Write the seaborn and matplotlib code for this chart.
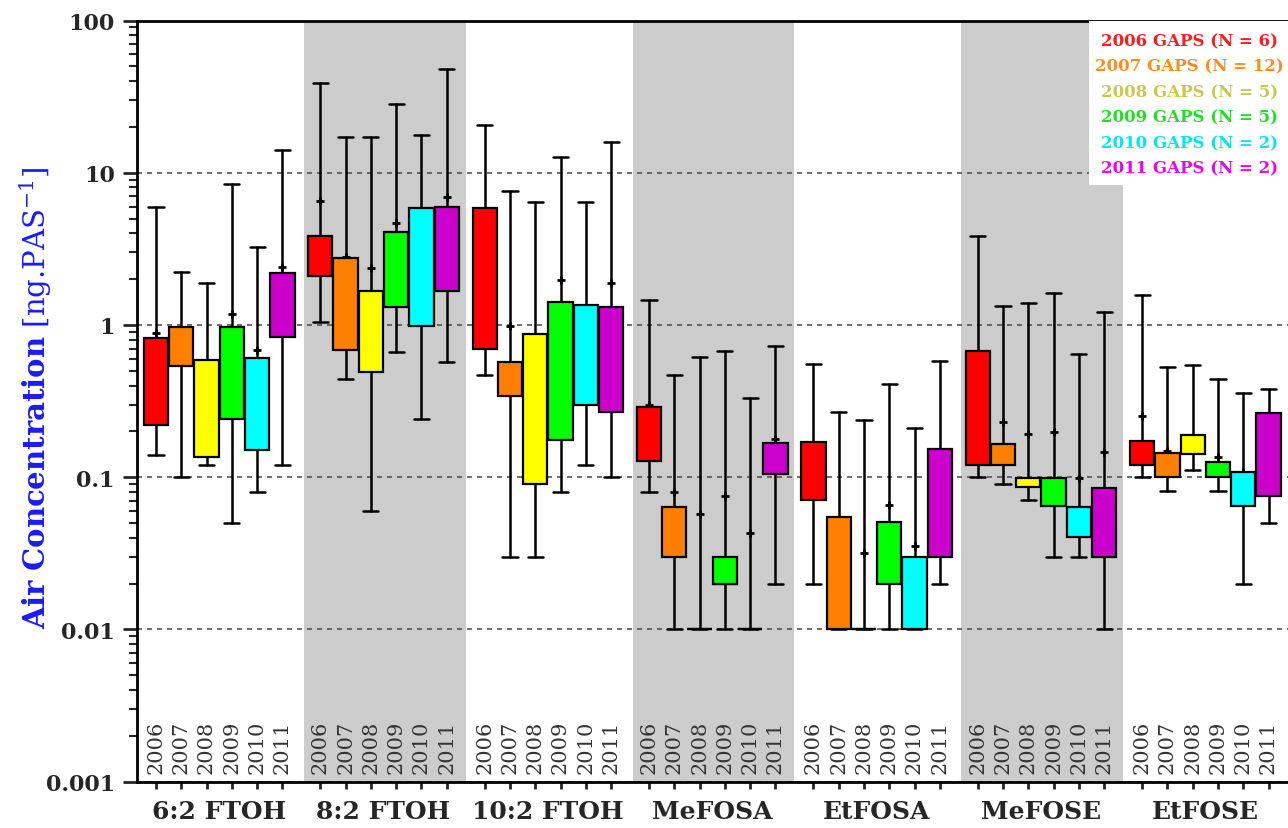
import matplotlib
matplotlib.use("Agg")
import matplotlib.pyplot as plt
import matplotlib.transforms as mtransforms
from matplotlib.patches import Rectangle
from matplotlib.ticker import NullFormatter
import seaborn as sns


# ── Data ──────────────────────────────────────────────────────────────────────

compounds = ["6:2 FTOH", "8:2 FTOH", "10:2 FTOH", "MeFOSA", "EtFOSA", "MeFOSE", "EtFOSE"]
years = ["2006", "2007", "2008", "2009", "2010", "2011"]
legend_labels = ["2006 GAPS (N = 6)", "2007 GAPS (N = 12)", "2008 GAPS (N = 5)",
                 "2009 GAPS (N = 5)", "2010 GAPS (N = 2)", "2011 GAPS (N = 2)"]

# one row per compound, one column per year
whisker_low = [
    [0.14, 0.10, 0.12, 0.05, 0.08, 0.12],
    [1.04, 0.44, 0.06, 0.66, 0.24, 0.575],
    [0.47, 0.03, 0.03, 0.08, 0.12, 0.10],
    [0.08, 0.01, 0.01, 0.01, 0.01, 0.02],
    [0.02, 0.01, 0.01, 0.01, 0.01, 0.02],
    [0.10, 0.09, 0.071, 0.03, 0.03, 0.01],
    [0.10, 0.081, 0.111, 0.081, 0.02, 0.05],
]
q1 = [
    [0.22, 0.54, 0.135, 0.24, 0.151, 0.83],
    [2.11, 0.685, 0.49, 1.32, 0.98, 1.66],
    [0.70, 0.34, 0.09, 0.176, 0.30, 0.27],
    [0.127, 0.03, 0.01, 0.02, 0.01, 0.105],
    [0.071, 0.01, 0.01, 0.02, 0.01, 0.03],
    [0.12, 0.12, 0.086, 0.065, 0.0407, 0.03],
    [0.12, 0.10, 0.142, 0.101, 0.065, 0.0757],
]
median = [
    [0.28, 0.79, 0.161, 0.58, 0.20, 1.48],
    [2.67, 1.50, 1.17, 2.27, 2.08, 2.58],
    [1.08, 0.44, 0.32, 0.78, 0.55, 0.53],
    [0.23, 0.05, 0.01, 0.02, 0.01, 0.146],
    [0.141, 0.0407, 0.01, 0.03, 0.02, 0.05],
    [0.18, 0.14, 0.091, 0.081, 0.05, 0.059],
    [0.151, 0.12, 0.155, 0.111, 0.089, 0.199],
]
q3 = [
    [0.82, 0.97, 0.59, 0.97, 0.61, 2.19],
    [3.82, 2.75, 1.68, 4.1, 5.87, 5.93],
    [5.85, 0.57, 0.87, 1.41, 1.36, 1.31],
    [0.288, 0.064, 0.01, 0.03, 0.01, 0.168],
    [0.17, 0.0546, 0.01, 0.0505, 0.03, 0.153],
    [0.67, 0.165, 0.0986, 0.099, 0.064, 0.0846],
    [0.174, 0.144, 0.19, 0.125, 0.108, 0.264],
]
whisker_high = [
    [5.93, 2.24, 1.9, 8.4, 3.27, 14.1],
    [38.7, 17.1, 17.2, 28.3, 17.8, 48.0],
    [20.6, 7.6, 6.45, 12.6, 6.4, 15.8],
    [1.46, 0.47, 0.62, 0.67, 0.33, 0.73],
    [0.555, 0.27, 0.239, 0.41, 0.21, 0.58],
    [3.82, 1.33, 1.39, 1.61, 0.64, 1.21],
    [1.57, 0.53, 0.55, 0.44, 0.357, 0.38],
]
mean = [
    [0.88, 0.88, 0.45, 1.18, 0.68, 2.39],
    [6.49, 2.78, 2.37, 4.66, 4.27, 6.9],
    [3.9, 0.98, 0.84, 1.98, 1.13, 1.88],
    [0.30, 0.080, 0.057, 0.0757, 0.043, 0.178],
    [0.153, 0.050, 0.0316, 0.066, 0.0355, 0.13],
    [0.61, 0.23, 0.192, 0.197, 0.0994, 0.146],
    [0.254, 0.148, 0.18, 0.135, 0.108, 0.186],
]

y_ticks = [0.001, 0.01, 0.1, 1, 10, 100]
y_tick_labels = ["0.001", "0.01", "0.1", "1", "10", "100"]

box_colors = ["#ff0000", "#ff8000", "#ffff00", "#00ff00", "#00ffff", "#cc00cc"]
legend_colors = ["#ff1a1a", "#ff8c1a", "#c8c850", "#1ee01e", "#00e6f0", "#f000f0"]


# ── Style ─────────────────────────────────────────────────────────────────────

sns.set_theme(style="ticks")
plt.rcParams["font.family"] = ["DejaVu Serif"]
plt.rcParams["mathtext.fontset"] = "dejavuserif"

GROUP_STEP = 6.5   # boxes per group + gap

fig = plt.figure(figsize=(12.88, 8.29), dpi=100)
ax = fig.add_axes([137 / 1288, 46.3 / 829, 1150.5 / 1288, 761.2 / 829])
ax.set_facecolor("white")

stats, positions = [], []
for g, comp in enumerate(compounds):
    for j, yr in enumerate(years):
        stats.append(dict(whislo=whisker_low[g][j], q1=q1[g][j], med=median[g][j],
                          q3=q3[g][j], whishi=whisker_high[g][j], mean=mean[g][j],
                          fliers=[], label=yr))
        positions.append(g * GROUP_STEP + j)

# alternating grey bands behind groups
for g in range(1, len(compounds), 2):
    ax.axvspan(g * GROUP_STEP - 0.65, g * GROUP_STEP + 5.75,
               color="#cccccc", lw=0, zorder=0.1)

art = ax.bxp(stats, positions=positions, widths=0.96, capwidths=0.6,
             patch_artist=True, showmeans=True, showfliers=False, manage_ticks=False,
             boxprops=dict(edgecolor="black", linewidth=1.6),
             medianprops=dict(color="black", linewidth=1.6),
             whiskerprops=dict(color="black", linewidth=1.8),
             capprops=dict(color="black", linewidth=1.8),
             meanprops=dict(marker="+", markeredgecolor="black",
                            markersize=6, markeredgewidth=2))
for k, box in enumerate(art["boxes"]):
    box.set_facecolor(box_colors[k % len(years)])
    box.set_zorder(3)

ax.set_yscale("log")
ax.set_ylim(0.001, 100)
ax.set_xlim(-0.75, (len(compounds) - 1) * GROUP_STEP + 5.75)
ax.set_yticks(y_ticks, y_tick_labels)
ax.yaxis.set_minor_formatter(NullFormatter())
ax.set_xticks(positions, [""] * len(positions))

ax.set_axisbelow(True)
ax.yaxis.grid(True, which="major", linestyle=(0, (3, 3)), color="#555555", linewidth=1.2)
ax.xaxis.grid(False)

for side in ["left", "bottom", "top"]:
    ax.spines[side].set_linewidth(2)
    ax.spines[side].set_color("black")
ax.spines["right"].set_visible(False)

ax.tick_params(axis="y", which="major", length=10, width=2, pad=6,
               labelsize=16, direction="out")
ax.tick_params(axis="y", which="minor", length=6, width=1.5, direction="out")
ax.tick_params(axis="x", which="major", length=5, width=2, direction="out")
for lbl in ax.get_yticklabels():
    lbl.set_fontweight("bold")

ax.set_ylabel(r"$\mathbf{Air\ Concentration}$ [ng.PAS$^{-1}$]",
              fontsize=21, color="#1a1aff")
ax.yaxis.set_label_coords(-0.072, 0.505)

# year labels inside the axes, group names below
trans = mtransforms.blended_transform_factory(ax.transData, ax.transAxes)
for g, comp in enumerate(compounds):
    for j, yr in enumerate(years):
        ax.text(g * GROUP_STEP + j, 0.012, yr, transform=trans, rotation=90,
                ha="center", va="bottom", fontsize=15, color="#333333")
    ax.text(g * GROUP_STEP + 2.5, -0.039, comp, transform=trans,
            ha="center", va="center", fontsize=18, fontweight="bold")

# coloured text legend on a white patch
ax.add_patch(Rectangle((0.8275, 0.784), 0.1725, 0.216, transform=ax.transAxes,
                       facecolor="white", edgecolor="none", zorder=5))
for k, (lab, col) in enumerate(zip(legend_labels, legend_colors)):
    ax.text(0.915, 0.9735 - k * 0.0335, lab, transform=ax.transAxes,
            ha="center", va="center", fontsize=12, fontweight="bold",
            color=col, zorder=6)

fig.savefig("out.png", dpi=100)
